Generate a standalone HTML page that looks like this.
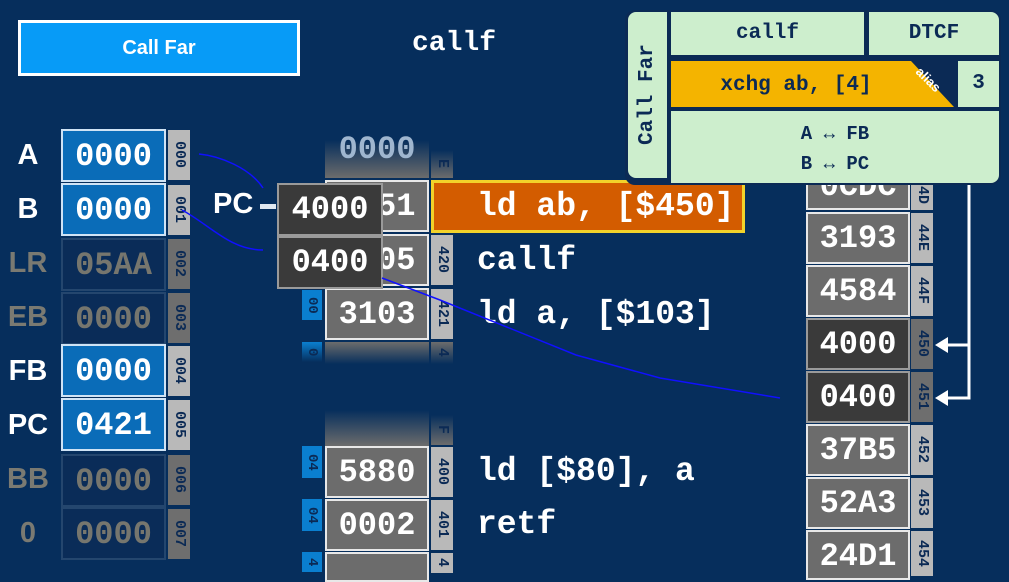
<!DOCTYPE html>
<html><head><meta charset="utf-8"><style>
body{margin:0;width:1009px;height:572px;overflow:hidden;background:#062e5c;font-family:"Liberation Sans",sans-serif;position:relative}
div{position:absolute;box-sizing:border-box}
.m{font-family:"Liberation Mono",monospace;font-weight:bold}
.lbl{left:0;width:56px;text-align:center;font-size:29px;font-weight:bold;color:#fff}
.fl{color:#7a7a72}
.reg{left:61px;width:105px;height:53px;background:#0a6cb8;border:2px solid #cfe3f5;color:#fff;font-size:32px;text-align:center;line-height:52px;font-family:"Liberation Mono",monospace;font-weight:bold}
.regf{background:#0a2c58;border:2px solid #24466e;color:#76766e}
.tag{width:22px;background:#b9b9b9;color:#0b2a55;font-family:"Liberation Mono",monospace;font-weight:bold;font-size:15px;writing-mode:vertical-rl;text-align:center;line-height:22px}
.tagd{background:#6e6e6e}
.mem{width:104px;height:52px;background:#6c6c6c;border:2px solid #e8e8e8;color:#fff;font-size:32px;text-align:center;line-height:50px;font-family:"Liberation Mono",monospace;font-weight:bold}
.dark{background:#3a3a3a;border-color:#9a9a9a}
.ins{color:#fff;font-size:33px;font-family:"Liberation Mono",monospace;font-weight:bold;white-space:pre;line-height:40px}
.btag{width:20px;background:#0a7fd0;color:#0b2a55;font-family:"Liberation Mono",monospace;font-weight:bold;font-size:14px;writing-mode:vertical-rl;text-align:center;line-height:20px}
.cell{background:#cdeecd;color:#0b2a55;font-family:"Liberation Mono",monospace;font-weight:bold;text-align:center}
.fu{background:linear-gradient(#062e5c,#6c6c6c);border:none}
.fd{background:linear-gradient(#6c6c6c,#062e5c);border:none}
</style></head><body>

<div style="left:18px;top:20px;width:282px;height:56px;background:#079bf7;border:3px solid #fff;color:#fff;font-size:20px;font-weight:bold;text-align:center;line-height:50px">Call Far</div>
<div class="m" style="left:412px;top:26px;color:#fff;font-size:28px;line-height:36px">callf</div>

<div class="lbl" style="top:139px">A</div>
<div class="lbl" style="top:193px">B</div>
<div class="lbl fl" style="top:247px">LR</div>
<div class="lbl fl" style="top:301px">EB</div>
<div class="lbl" style="top:355px">FB</div>
<div class="lbl" style="top:409px">PC</div>
<div class="lbl fl" style="top:463px">BB</div>
<div class="lbl fl" style="top:517px">0</div>

<div class="reg" style="top:129px">0000</div>
<div class="reg" style="top:183px">0000</div>
<div class="reg regf" style="top:238px">05AA</div>
<div class="reg regf" style="top:292px">0000</div>
<div class="reg" style="top:344px">0000</div>
<div class="reg" style="top:398px">0421</div>
<div class="reg regf" style="top:454px">0000</div>
<div class="reg regf" style="top:507px">0000</div>

<div class="tag" style="left:168px;top:130px;height:50px">000</div>
<div class="tag" style="left:168px;top:185px;height:50px">001</div>
<div class="tag tagd" style="left:168px;top:239px;height:50px">002</div>
<div class="tag tagd" style="left:168px;top:293px;height:50px">003</div>
<div class="tag" style="left:168px;top:346px;height:50px">004</div>
<div class="tag" style="left:168px;top:400px;height:50px">005</div>
<div class="tag tagd" style="left:168px;top:455px;height:50px">006</div>
<div class="tag tagd" style="left:168px;top:509px;height:50px">007</div>

<!-- middle memory -->
<div class="mem fu" style="left:325px;top:140px;height:38px;line-height:20px;color:#9fb6cf">0000</div>
<div class="tag fu" style="left:431px;top:150px;height:28px;color:#0b2a55">E</div>
<div class="mem" style="left:325px;top:180px">4051</div>
<div class="tag" style="left:431px;top:181px;height:50px">41F</div>
<div class="mem" style="left:325px;top:234px">0005</div>
<div class="tag" style="left:431px;top:235px;height:50px">420</div>
<div class="mem" style="left:325px;top:288px">3103</div>
<div class="tag" style="left:431px;top:289px;height:50px">421</div>
<div class="mem fd" style="left:325px;top:342px;height:22px"></div>
<div class="tag fd" style="left:431px;top:342px;height:22px">4</div>
<div class="btag" style="left:302px;top:290px;height:30px">00</div>
<div class="btag" style="left:302px;top:342px;height:20px;background:linear-gradient(#0a7fd0,#062e5c)">0</div>

<div class="mem fu" style="left:325px;top:410px;height:36px"></div>
<div class="tag fu" style="left:431px;top:415px;height:30px">F</div>
<div class="mem" style="left:325px;top:446px">5880</div>
<div class="tag" style="left:431px;top:447px;height:50px">400</div>
<div class="mem" style="left:325px;top:499px">0002</div>
<div class="tag" style="left:431px;top:500px;height:50px">401</div>
<div class="mem" style="left:325px;top:552px;height:30px"></div>
<div class="tag" style="left:431px;top:553px;height:20px">4</div>
<div class="btag" style="left:302px;top:446px;height:32px">04</div>
<div class="btag" style="left:302px;top:499px;height:32px">04</div>
<div class="btag" style="left:302px;top:552px;height:20px">4</div>

<!-- PC popup -->
<div style="left:213px;top:188px;color:#fff;font-size:29px;font-weight:bold">PC</div>
<div style="left:260px;top:204px;width:16px;height:5px;background:#e0e8f0"></div>
<div class="mem dark" style="left:277px;top:183px;width:106px;height:53px">4000</div>
<div class="mem dark" style="left:277px;top:236px;width:106px;height:53px">0400</div>

<!-- instructions -->
<div style="left:431px;top:180px;width:314px;height:53px;background:#d35c00;border:3px solid #f2d22a"></div>
<div class="ins" style="left:477px;top:187px">ld ab, [$450]</div>
<div class="ins" style="left:477px;top:241px">callf</div>
<div class="ins" style="left:477px;top:295px">ld a, [$103]</div>
<div class="ins" style="left:477px;top:452px">ld [$80], a</div>
<div class="ins" style="left:477px;top:505px">retf</div>

<!-- right memory -->
<div class="mem" style="left:806px;top:160px;height:50px">0CDC</div>
<div class="tag" style="left:911px;top:180px;height:30px">4D</div>
<div class="mem" style="left:806px;top:212px">3193</div>
<div class="tag" style="left:911px;top:213px;height:50px">44E</div>
<div class="mem" style="left:806px;top:265px">4584</div>
<div class="tag" style="left:911px;top:266px;height:50px">44F</div>
<div class="mem dark" style="left:806px;top:318px">4000</div>
<div class="tag tagd" style="left:911px;top:319px;height:50px">450</div>
<div class="mem dark" style="left:806px;top:371px">0400</div>
<div class="tag tagd" style="left:911px;top:372px;height:50px">451</div>
<div class="mem" style="left:806px;top:424px">37B5</div>
<div class="tag" style="left:911px;top:425px;height:50px">452</div>
<div class="mem" style="left:806px;top:477px">52A3</div>
<div class="tag" style="left:911px;top:478px;height:50px">453</div>
<div class="mem" style="left:806px;top:530px;height:50px">24D1</div>
<div class="tag" style="left:911px;top:531px;height:45px">454</div>

<!-- card -->
<div style="left:625px;top:10px;width:376px;height:175px;background:#0b2a55;border-radius:10px"></div>
<div class="cell" style="left:628px;top:12px;width:39px;height:166px;border-radius:8px 0 0 8px"></div>
<div class="m" style="left:628px;top:12px;width:39px;height:166px;color:#0b2a55;font-size:21px;writing-mode:vertical-rl;transform:rotate(180deg);text-align:center;line-height:39px">Call Far</div>
<div class="cell" style="left:671px;top:12px;width:193px;height:43px;font-size:21px;line-height:43px">callf</div>
<div class="cell" style="left:869px;top:12px;width:130px;height:43px;font-size:21px;line-height:43px;border-radius:0 8px 0 0">DTCF</div>
<div style="left:671px;top:61px;width:283px;height:46px;background:#f4b400;clip-path:polygon(0 0,240px 0,283px 46px,0 46px)"></div>
<div class="m" style="left:671px;top:61px;width:250px;height:46px;color:#0b2a55;font-size:21px;text-align:center;line-height:50px">xchg ab, [4]</div>
<div style="left:914px;top:72px;color:#fff;font-size:13px;font-weight:bold;transform:rotate(45deg)">alias</div>
<div class="cell" style="left:958px;top:61px;width:41px;height:46px;font-size:21px;line-height:46px">3</div>
<div class="cell" style="left:671px;top:111px;width:328px;height:72px;font-size:19px;line-height:30px;padding-top:8px;border-radius:0 0 8px 0">A ↔ FB<br>B ↔ PC</div>

<svg width="1009" height="572" style="position:absolute;left:0;top:0">
<path d="M199 154 C220 156 250 168 263 188" stroke="#1010ff" stroke-width="1.5" fill="none"/>
<path d="M182 210 C210 225 230 250 263 250" stroke="#1010ff" stroke-width="1.5" fill="none"/>
<path d="M382 278 L440 300 L576 355 L660 378 L780 398" stroke="#1010ff" stroke-width="1.5" fill="none"/>
<path d="M969 185 V398 H945 M969 345 H945" stroke="#fff" stroke-width="3" fill="none"/>
<polygon points="935,345 948,337 948,353" fill="#fff"/>
<polygon points="935,398 948,390 948,406" fill="#fff"/>
</svg>
</body></html>
